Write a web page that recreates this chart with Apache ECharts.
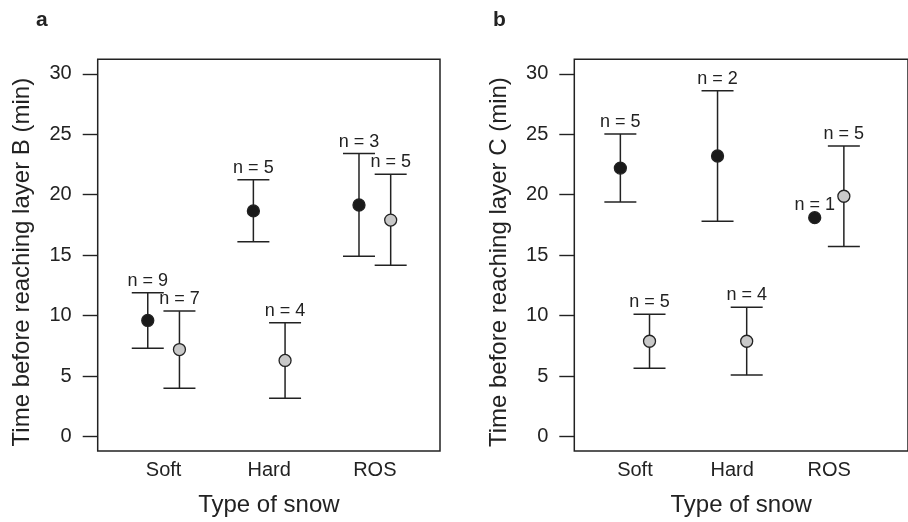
<!DOCTYPE html>
<html>
<head>
<meta charset="utf-8">
<script src="https://cdn.jsdelivr.net/npm/echarts@6/dist/echarts.min.js"></script>
<style>
html,body{margin:0;padding:0;background:#fff;}
#chart{width:908px;height:522px;}
</style>
</head>
<body>
<div id="chart"></div>
<script>
// ---- data ----
const categories = ['Soft', 'Hard', 'ROS'];
const yTicks = [0, 5, 10, 15, 20, 25, 30];

// Panel a: time before reaching layer B (min)
const aBlackMean = [9.6, 18.66, 19.15];
const aBlackLow  = [7.3, 16.1, 14.9];
const aBlackHigh = [11.88, 21.23, 23.4];
const aBlackN    = [9, 5, 3];
const aGrayMean  = [7.19, 6.29, 17.9];
const aGrayLow   = [4.0, 3.16, 14.16];
const aGrayHigh  = [10.37, 9.41, 21.7];
const aGrayN     = [7, 4, 5];

// Panel b: time before reaching layer C (min)
const bBlackMean = [22.2, 23.2, 18.1];
const bBlackLow  = [19.4, 17.8, null];
const bBlackHigh = [25.02, 28.6, null];
const bBlackN    = [5, 2, 1];
const bGrayMean  = [7.88, 7.88, 19.87];
const bGrayLow   = [5.65, 5.08, 15.72];
const bGrayHigh  = [10.12, 10.7, 24.03];
const bGrayN     = [5, 4, 5];

// ---- build ----
const FONT = '"Liberation Sans", Arial, Helvetica, sans-serif';
const INK = '#222';
const OFFSET = 0.15;

function rows(mean, low, high, n, off) {
  return categories.map((c, i) => [i + 1 + off, mean[i], low[i], high[i], n[i]]);
}

function errRender(params, api) {
  const x = api.value(0);
  const mean = api.value(1);
  const low = api.value(2);
  const high = api.value(3);
  const n = api.value(4);
  const pm = api.coord([x, mean]);
  const children = [];
  const capHalf = 16;
  const lineStyle = { stroke: INK, lineWidth: 1.5 };
  let labelY;
  if (Number.isFinite(low) && Number.isFinite(high)) {
    const ph = api.coord([x, high]);
    const pl = api.coord([x, low]);
    children.push({ type: 'line', shape: { x1: ph[0], y1: ph[1], x2: pl[0], y2: pl[1] }, style: lineStyle });
    children.push({ type: 'line', shape: { x1: ph[0] - capHalf, y1: ph[1], x2: ph[0] + capHalf, y2: ph[1] }, style: lineStyle });
    children.push({ type: 'line', shape: { x1: pl[0] - capHalf, y1: pl[1], x2: pl[0] + capHalf, y2: pl[1] }, style: lineStyle });
    labelY = ph[1] - 12;
  } else {
    labelY = pm[1] - 13;
  }
  children.push({
    type: 'text',
    style: { x: pm[0], y: labelY, text: 'n = ' + n, align: 'center', verticalAlign: 'middle',
             font: '18px ' + FONT, fill: INK }
  });
  return { type: 'group', children: children };
}

function makeSeries(idx, data, fill) {
  return [
    { type: 'custom', xAxisIndex: idx, yAxisIndex: idx, data: data, renderItem: errRender,
      encode: { x: 0, y: 1 }, z: 2, silent: true, clip: false },
    { type: 'scatter', xAxisIndex: idx, yAxisIndex: idx, data: data.map(r => [r[0], r[1]]),
      symbol: 'circle', symbolSize: 12, z: 3, silent: true,
      itemStyle: { color: fill, borderColor: INK, borderWidth: 1.3, opacity: 1 } }
  ];
}

function xAxis(idx, max) {
  return {
    type: 'value', gridIndex: idx, min: 0.376, max: max,
    splitLine: { show: false }, axisLine: { show: false }, axisTick: { show: false },
    axisLabel: { customValues: [1, 2, 3], formatter: v => categories[Math.round(v) - 1],
                 fontSize: 20, fontFamily: FONT, color: INK, margin: 9 },
    name: 'Type of snow', nameLocation: 'middle', nameGap: 42,
    nameTextStyle: { fontSize: 24, fontFamily: FONT, color: INK }
  };
}

function yAxis(idx, title) {
  return {
    type: 'value', gridIndex: idx, min: -1.2, max: 31.2,
    splitLine: { show: false }, axisLine: { show: false },
    axisTick: { show: true, inside: false, length: 15, customValues: yTicks,
                lineStyle: { color: INK, width: 1.4 } },
    axisLabel: { customValues: yTicks, fontSize: 20, fontFamily: FONT, color: INK, margin: 26 },
    name: title, nameLocation: 'middle', nameGap: 63,
    nameTextStyle: { fontSize: 24, fontFamily: FONT, color: INK, padding: [0, 14, 0, 0] }
  };
}

const chart = echarts.init(document.getElementById('chart'), null, { renderer: 'canvas' });
chart.setOption({
  animation: false,
  backgroundColor: '#fff',
  grid: [
    { left: 97.7, top: 59.3, width: 342.3, height: 393, show: true, borderColor: INK, borderWidth: 1.5, backgroundColor: 'transparent' },
    { left: 574.3, top: 59.3, width: 362.7, height: 393, show: true, borderColor: INK, borderWidth: 1.5, backgroundColor: 'transparent' }
  ],
  xAxis: [xAxis(0, 3.617), xAxis(1, 3.81)],
  yAxis: [yAxis(0, 'Time before reaching layer B (min)'), yAxis(1, 'Time before reaching layer C (min)')],
  graphic: [
    { type: 'text', left: 36, top: 10, style: { text: 'a', font: 'bold 21px ' + FONT, fill: INK } },
    { type: 'text', left: 493, top: 10, style: { text: 'b', font: 'bold 21px ' + FONT, fill: INK } }
  ],
  series: [].concat(
    makeSeries(0, rows(aBlackMean, aBlackLow, aBlackHigh, aBlackN, -OFFSET), '#1a1a1a'),
    makeSeries(0, rows(aGrayMean, aGrayLow, aGrayHigh, aGrayN, OFFSET), '#c8c8c8'),
    makeSeries(1, rows(bBlackMean, bBlackLow, bBlackHigh, bBlackN, -OFFSET), '#1a1a1a'),
    makeSeries(1, rows(bGrayMean, bGrayLow, bGrayHigh, bGrayN, OFFSET), '#c8c8c8')
  )
});
</script>
</body>
</html>
